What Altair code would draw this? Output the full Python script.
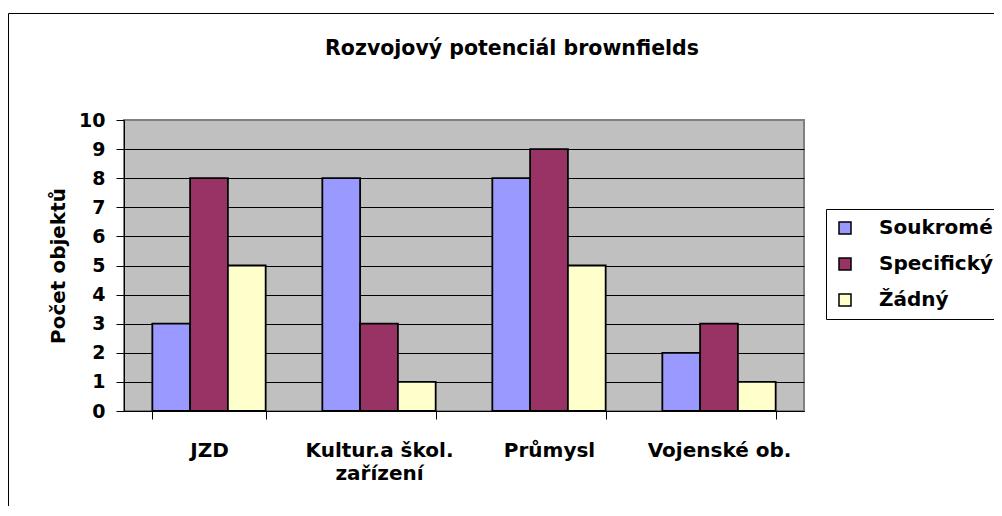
import altair as alt
import pandas as pd

categories = ["JZD", "Kultur.a škol. zařízení", "Průmysl", "Vojenské ob."]
series = ["Soukromé", "Specifický", "Žádný"]
soukrome = [3, 8, 8, 2]
specificky = [8, 3, 9, 3]
zadny = [5, 1, 5, 1]
colors = ["#9999FF", "#993366", "#FFFFCC"]
y_ticks = list(range(0, 11))

rows = []
for s, vals in zip(series, [soukrome, specificky, zadny]):
    for c, v in zip(categories, vals):
        rows.append({"kategorie": c, "typ": s, "pocet": v})
df = pd.DataFrame(rows)

FONT = "DejaVu Sans"

bars = alt.Chart(df).mark_bar(stroke="black", strokeWidth=1.8, opacity=1).encode(
    x=alt.X(
        "kategorie:N",
        sort=categories,
        scale=alt.Scale(paddingInner=1 / 3, paddingOuter=1 / 6),
        axis=alt.Axis(
            title=None, labelAngle=0, domainColor="black", domainWidth=1,
            tickColor="black", tickBand="extent", tickSize=8, labelPadding=21,
            labelFont=FONT, labelFontWeight="bold", labelFontSize=20,
            labelColor="black", labelLineHeight=23, grid=False,
            labelExpr="datum.value == 'Kultur.a škol. zařízení' ? ['Kultur.a škol.', 'zařízení'] : datum.value",
        ),
    ),
    xOffset=alt.XOffset("typ:N", sort=series, scale=alt.Scale(paddingInner=0, paddingOuter=0)),
    y=alt.Y(
        "pocet:Q",
        scale=alt.Scale(domain=[0, 10], nice=False),
        axis=alt.Axis(
            values=y_ticks, title="Počet objektů", grid=True,
            gridColor={"condition": {"test": "datum.value === 10", "value": "#808080"}, "value": "black"},
            gridWidth=1, domainColor="black", tickColor="black", tickSize=8,
            labelPadding=11, labelFont=FONT, labelFontWeight="bold", labelFontSize=19,
            labelColor="black", titleFont=FONT, titleFontWeight="bold", titleFontSize=20,
            titleColor="black", titlePadding=10,
        ),
    ),
    color=alt.Color(
        "typ:N",
        sort=series,
        scale=alt.Scale(domain=series, range=colors),
        legend=alt.Legend(
            title=None, orient="none", legendX=702, legendY=89, direction="vertical",
            symbolType="square", symbolSize=144, symbolStrokeColor="black",
            symbolStrokeWidth=1.5, symbolOpacity=1, labelFont=FONT, labelFontWeight="bold",
            labelFontSize=20, labelColor="black", labelOffset=24, rowPadding=16,
            padding=9, strokeColor="black", fillColor="white",
        ),
    ),
)

border = alt.Chart(pd.DataFrame({"k": [0]})).mark_rect(
    fillOpacity=0, stroke="black", strokeWidth=1
).encode(
    x=alt.value(-115.5), x2=alt.value(2000), y=alt.value(-106.5), y2=alt.value(1000)
)

chart = alt.layer(border, bars).properties(
    width=680,
    height=291,
    autosize=alt.AutoSizeParams(type="none"),
    padding={"left": 116, "top": 112, "right": 190, "bottom": 95},
    title=alt.Title(
        "Rozvojový potenciál brownfields", font=FONT, fontSize=20.5, fontWeight="bold",
        color="black", anchor="middle", dx=48, offset=-46,
    ),
).configure(background="white").configure_view(
    fill="#C0C0C0", stroke="#808080", strokeWidth=2
)

chart.save("out.html", embed_options={"renderer": "svg", "actions": False})
